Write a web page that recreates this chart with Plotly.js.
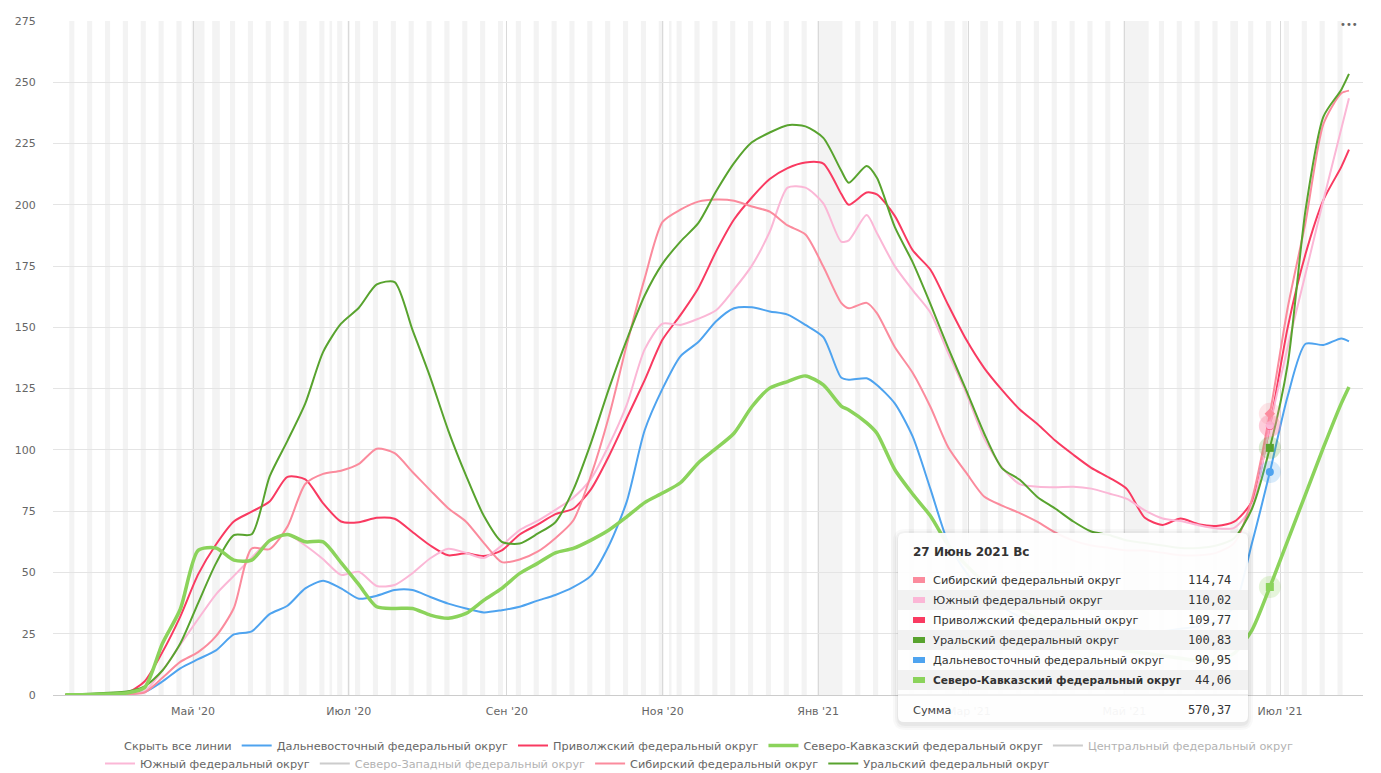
<!DOCTYPE html>
<html>
<head>
<meta charset="utf-8">
<script src="https://cdn.plot.ly/plotly-3.0.1.min.js"></script>
<style>
html,body{margin:0;padding:0;background:#fff;}
#chart{width:1381px;height:773px;}
</style>
</head>
<body>
<div id="chart"></div>
<script>
// ---------- DATA ----------
const dates = [
 '2020-03-12','2020-03-15','2020-03-22','2020-03-29','2020-04-05','2020-04-12','2020-04-19','2020-04-26',
 '2020-05-03','2020-05-10','2020-05-17','2020-05-24','2020-05-31','2020-06-07','2020-06-14','2020-06-21','2020-06-28',
 '2020-07-05','2020-07-12','2020-07-19','2020-07-26','2020-08-02','2020-08-09','2020-08-16','2020-08-23','2020-08-30',
 '2020-09-06','2020-09-13','2020-09-20','2020-09-27','2020-10-04','2020-10-11','2020-10-18','2020-10-25',
 '2020-11-01','2020-11-08','2020-11-15','2020-11-22','2020-11-29','2020-12-06','2020-12-13','2020-12-20','2020-12-27',
 '2021-01-03','2021-01-10','2021-01-13','2021-01-20','2021-01-24','2021-01-31','2021-02-07','2021-02-14','2021-02-21','2021-02-28',
 '2021-03-07','2021-03-14','2021-03-21','2021-03-28','2021-04-04','2021-04-11','2021-04-18','2021-04-25',
 '2021-05-02','2021-05-09','2021-05-16','2021-05-23','2021-05-30','2021-06-06','2021-06-13','2021-06-20','2021-06-27',
 '2021-07-04','2021-07-11','2021-07-18','2021-07-25','2021-07-28'
];

const dalnevostochny = [
 0, 0.1, 0.1, 0.2, 0.4, 1.2, 5.5, 10.9, 14.6, 18.2,
 24.7, 26, 33, 36.4, 43.5, 46.6, 43.5, 39.3, 40.5, 42.8,
 42.8, 40, 37.3, 35.3, 33.7, 34.6, 36, 38.5, 40.8, 44,
 48.7, 61, 79, 108, 125, 138.2, 144, 152.5, 157.8, 158.2,
 156.5, 155.2, 151, 146, 129.5, 128.6, 129.2, 126.5, 119, 105.5, 84,
 62, 50, 42, 36, 32, 30, 29, 28, 27, 27,
 27, 26, 26, 27, 28, 30, 36, 62, 90.95, 122,
 143.3, 142.8, 145.5, 144.3
];
const privolzhsky = [
 0.1, 0.1, 0.2, 0.4, 0.8, 5.5, 17.5, 32, 49.2, 61.4,
 70.8, 74.8, 78.9, 89, 88, 78.2, 70.8, 70.5, 72.3, 71.9,
 66.5, 61, 57, 57.8, 56.7, 59, 65.5, 69.5, 73.8, 76,
 84, 97.5, 113, 128.5, 145, 155, 166, 181, 194, 203,
 210.5, 215, 217.3, 216.8, 204.5, 200, 205, 204.3, 195.5, 181.5, 173.5,
 159, 145, 133.5, 124.5, 116.5, 110.5, 103.7, 98, 92.7, 88.7,
 84, 72.3, 69.4, 72, 69.7, 69, 70.7, 79, 109.77, 150,
 180, 202, 215.5, 222.5
];
const severoKavkazsky = [
 0.1, 0.1, 0.2, 0.4, 0.8, 3, 21, 35, 59, 60,
 55, 55, 63, 65.5, 62.5, 62.5, 54, 45, 36, 35.3,
 35.3, 32.6, 31.3, 33.3, 38.7, 43.5, 49.6, 53.7, 58, 59.8,
 63.2, 67.3, 72.7, 78.5, 82.4, 86.6, 94.7, 100.6, 106.8, 117.6,
 125.2, 127.9, 130.2, 126.5, 117.9, 116.3, 111, 106.8, 92, 82, 73,
 61, 53, 46, 40, 35, 31, 28, 25, 22, 20,
 18, 17, 16, 15, 14, 14, 17, 26.5, 44.06, 63,
 82, 101, 119, 125.7
];
const yuzhny = [
 0, 0.1, 0.1, 0.2, 0.5, 1.5, 10, 20.5, 31, 41.1,
 48.6, 56, 63.1, 65.6, 61, 55.4, 49, 50.3, 44.5, 44.9,
 49.7, 55.8, 59.7, 58, 55.9, 61, 67.3, 71, 75.5, 80.5,
 88.3, 102, 118.5, 141, 151.5, 151, 153.5, 157, 165.5, 175.2,
 189, 207, 207, 200.6, 185, 185.5, 195.8, 188.5, 175, 165.2, 156,
 139.4, 123.2, 104.8, 92.9, 86, 85, 84.8, 85, 84.2, 82.2,
 80, 75.3, 72, 71, 69.3, 68, 68.2, 77, 110.02, 142,
 172, 202, 231, 243.5
];
const sibirsky = [
 0, 0.1, 0.1, 0.2, 0.4, 1, 7, 13.5, 17.5, 24,
 35.5, 59.8, 59.5, 68.7, 86.1, 90.2, 91.5, 94.3, 100.5, 98.7,
 91, 83.5, 76.2, 70.7, 62, 54.2, 55.3, 58.5, 64, 71.2,
 89.7, 113.7, 143, 170, 193, 198, 201.3, 202.2, 201.7, 199.3,
 197.2, 191.6, 187.9, 174.8, 160, 157.8, 160, 155.8, 142, 131.5, 117.5,
 101, 90.7, 81, 77.3, 74.2, 70.6, 66.2, 63, 61, 60,
 59, 59, 58, 57, 57, 58, 62, 80, 114.74, 158,
 193, 233, 245.5, 246.6
];
const uralsky = [
 0.2, 0.3, 0.5, 0.9, 1.4, 3.5, 10, 21, 37.5, 53.7,
 65.2, 65.6, 89.1, 103.7, 119, 140, 151.5, 158, 167.5, 168.5,
 149, 129.5, 108, 89.5, 73, 62.5, 61.8, 65.8, 70.5, 83.7,
 103, 125, 145, 163, 176, 185, 192.5, 205.5, 217, 225.5,
 229.5, 232.5, 232, 227.3, 214, 209, 215.8, 211, 191, 176.6, 159.5,
 141.4, 124.4, 106.8, 92.6, 87.8, 80.7, 76, 70.8, 66.7, 65.3,
 63, 62, 61, 60, 60, 61, 64, 76, 100.83, 135,
 198, 236, 247, 253.4
];

const seriesNames = {
  dv: 'Дальневосточный федеральный округ',
  pv: 'Приволжский федеральный округ',
  sk: 'Северо-Кавказский федеральный округ',
  cf: 'Центральный федеральный округ',
  yu: 'Южный федеральный округ',
  sz: 'Северо-Западный федеральный округ',
  sb: 'Сибирский федеральный округ',
  ur: 'Уральский федеральный округ'
};
const hideAllLabel = 'Скрыть все линии';

const tickVals = ['2020-05-01','2020-07-01','2020-09-01','2020-11-01','2021-01-01','2021-03-01','2021-05-01','2021-07-01'];
const tickText = ["Май '20","Июл '20","Сен '20","Ноя '20","Янв '21","Мар '21","Май '21","Июл '21"];

const holidays = ['2020-05-01','2020-05-04','2020-05-05','2020-05-11','2020-06-12','2020-06-24','2020-07-01','2020-11-04',
 '2021-01-01','2021-01-04','2021-01-05','2021-01-06','2021-01-07','2021-01-08','2021-02-22','2021-02-23','2021-03-08',
 '2021-05-03','2021-05-04','2021-05-05','2021-05-06','2021-05-07','2021-05-10','2021-06-14'];

const tooltipDate = '2021-06-27';
const ruMonths = ['Январь','Февраль','Март','Апрель','Май','Июнь','Июль','Август','Сентябрь','Октябрь','Ноябрь','Декабрь'];
const ruDays = ['Вс','Пн','Вт','Ср','Чт','Пт','Сб'];
const sumLabel = 'Сумма';

// ---------- STYLE ----------
const FONT = 'DejaVu Sans, Verdana, sans-serif';
const MONO = 'DejaVu Sans Mono, monospace';
const TXT = 11.3;
const W = 1381, H = 773;
const M = {l:53, r:18, t:21, b:78};
const pw = W - M.l - M.r, ph = H - M.t - M.b;
const X = px => (px - M.l) / pw;
const Y = py => (H - M.b - py) / ph;

const visibleSeries = [
  {key:'dv', y: dalnevostochny, color:'#4ea3ef', legend:'legend', rank:2, symbol:'circle', width:2},
  {key:'pv', y: privolzhsky, color:'#f93a61', legend:'legend', rank:3, symbol:'circle', width:2},
  {key:'yu', y: yuzhny, color:'#fbb7d6', legend:'legend2', rank:6, symbol:'circle', width:2},
  {key:'sb', y: sibirsky, color:'#fb8b9d', legend:'legend2', rank:8, symbol:'diamond', width:2},
  {key:'ur', y: uralsky, color:'#58a32e', legend:'legend2', rank:9, symbol:'square', width:2},
  {key:'sk', y: severoKavkazsky, color:'#8bd35b', legend:'legend', rank:4, symbol:'square', width:3.5}
];

const traces = [];
traces.push({x:[null], y:[null], name: hideAllLabel, mode:'lines', line:{width:0, color:'rgba(0,0,0,0)'},
  legend:'legend', legendrank:1, hoverinfo:'skip'});
traces.push({x:[null], y:[null], name: seriesNames.cf, mode:'lines', line:{color:'#9a9a9a', width:2},
  legend:'legend', legendrank:5, visible:'legendonly'});
traces.push({x:[null], y:[null], name: seriesNames.sz, mode:'lines', line:{color:'#9a9a9a', width:2},
  legend:'legend2', legendrank:7, visible:'legendonly'});

visibleSeries.forEach(s => {
  traces.push({x: dates, y: s.y, name: seriesNames[s.key], mode:'lines',
    line:{color:s.color, width:s.width, shape:'spline', smoothing:0.7},
    legend:s.legend, legendrank:s.rank, hoverinfo:'skip'});
});

// hover markers at tooltip date
const ti = dates.indexOf(tooltipDate);
visibleSeries.forEach(s => {
  traces.push({x:[tooltipDate], y:[s.y[ti]], mode:'markers', showlegend:false, hoverinfo:'skip',
    marker:{size:22, color:s.color, opacity:0.22, symbol:'circle'}});
  traces.push({x:[tooltipDate], y:[s.y[ti]], mode:'markers', showlegend:false, hoverinfo:'skip',
    marker:{size:8, color:s.color, symbol:s.symbol, line:{width:0}}});
});

// ---------- weekend / holiday stripes ----------
const shapes = [];
function d2s(t){ const d = new Date(t); return d.toISOString().slice(0,16).replace('T',' '); }
const DAY = 86400000;
const t0 = Date.parse(dates[0] + 'T00:00:00Z'), t1 = Date.parse(dates[dates.length-1] + 'T00:00:00Z');
const hol = new Set(holidays);
let runStart = null;
for (let t = t0; t <= t1 + DAY; t += DAY) {
  const d = new Date(t);
  const iso = d.toISOString().slice(0,10);
  const off = t <= t1 && (d.getUTCDay() === 0 || d.getUTCDay() === 6 || hol.has(iso));
  if (off && runStart === null) runStart = t;
  if (!off && runStart !== null) {
    shapes.push({type:'rect', xref:'x', yref:'paper', x0:d2s(runStart - DAY/2), x1:d2s(t - DAY/2), y0:0, y1:1,
      fillcolor:'#f3f3f3', line:{width:0}, layer:'below'});
    runStart = null;
  }
}

// ---------- tooltip ----------
function roundRect(x0,y0,x1,y1,r){
  return `M${X(x0+r)},${Y(y0)} L${X(x1-r)},${Y(y0)} Q${X(x1)},${Y(y0)} ${X(x1)},${Y(y0+r)} ` +
         `L${X(x1)},${Y(y1-r)} Q${X(x1)},${Y(y1)} ${X(x1-r)},${Y(y1)} L${X(x0+r)},${Y(y1)} ` +
         `Q${X(x0)},${Y(y1)} ${X(x0)},${Y(y1-r)} L${X(x0)},${Y(y0+r)} Q${X(x0)},${Y(y0)} ${X(x0+r)},${Y(y0)} Z`;
}
const TB = {x0:898, y0:533, x1:1248, y1:722};
[[6,0.025],[4,0.03],[2,0.04]].forEach(([e,a]) => {
  shapes.push({type:'path', xref:'paper', yref:'paper', path: roundRect(TB.x0-e+1, TB.y0-e+2, TB.x1+e-1, TB.y1+e+2, 6+e),
    fillcolor:`rgba(0,0,0,${a})`, line:{width:0}, layer:'above'});
});
shapes.push({type:'path', xref:'paper', yref:'paper', path: roundRect(TB.x0, TB.y0, TB.x1, TB.y1, 6),
  fillcolor:'rgba(255,255,255,0.94)', line:{width:0}, layer:'above'});

const rows = visibleSeries.map(s => ({name: seriesNames[s.key], v: s.y[ti], color: s.color, bold: s.key === 'sk'}))
  .sort((a,b) => b.v - a.v);
const fmt = v => v.toFixed(2).replace('.', ',');
const annotations = [];
const td = new Date(tooltipDate + 'T00:00:00Z');
annotations.push({xref:'paper', yref:'paper', x:X(911), y:Y(552), xanchor:'left', yanchor:'middle', showarrow:false,
  text:`<b>${td.getUTCDate()} ${ruMonths[td.getUTCMonth()]} ${td.getUTCFullYear()} ${ruDays[td.getUTCDay()]}</b>`,
  font:{family:FONT, size:12, color:'#333'}});
rows.forEach((r, i) => {
  const cy = 580 + i*20;
  if (i % 2 === 1) {
    shapes.push({type:'rect', xref:'paper', yref:'paper', x0:X(TB.x0), x1:X(TB.x1), y0:Y(cy-10), y1:Y(cy+10),
      fillcolor:'#f2f2f2', line:{width:0}, layer:'above'});
  }
  shapes.push({type:'rect', xref:'paper', yref:'paper', x0:X(913), x1:X(925), y0:Y(cy-3), y1:Y(cy+3),
    fillcolor:r.color, line:{width:0}, layer:'above'});
  annotations.push({xref:'paper', yref:'paper', x:X(931), y:Y(cy), xanchor:'left', yanchor:'middle', showarrow:false,
    text: r.bold ? `<b>${r.name}</b>` : r.name, font:{family:FONT, size: r.bold ? 10.6 : TXT, color:'#333'}});
  annotations.push({xref:'paper', yref:'paper', x:X(1233), y:Y(cy), xanchor:'right', yanchor:'middle', showarrow:false,
    text: fmt(r.v), font:{family:MONO, size:12, color:'#333'}});
});
shapes.push({type:'line', xref:'paper', yref:'paper', x0:X(TB.x0), x1:X(TB.x1), y0:Y(695), y1:Y(695),
  line:{color:'#e2e2e2', width:1}, layer:'above'});
const total = rows.reduce((a,r) => a + r.v, 0);
annotations.push({xref:'paper', yref:'paper', x:X(911), y:Y(710), xanchor:'left', yanchor:'middle', showarrow:false,
  text: sumLabel, font:{family:FONT, size:TXT, color:'#444'}});
annotations.push({xref:'paper', yref:'paper', x:X(1233), y:Y(710), xanchor:'right', yanchor:'middle', showarrow:false,
  text: fmt(total), font:{family:MONO, size:12, color:'#333'}});
// menu dots
annotations.push({xref:'paper', yref:'paper', x:X(1360), y:Y(25), xanchor:'right', yanchor:'middle', showarrow:false,
  text:'•••', font:{family:FONT, size:10, color:'#666'}});

const legendBase = {orientation:'h', yanchor:'top', xanchor:'left', bgcolor:'rgba(0,0,0,0)',
  font:{family:FONT, size:TXT, color:'#666'}, itemclick:false, itemdoubleclick:false, traceorder:'normal'};

const layout = {
  width:W, height:H,
  margin:{l:M.l, r:M.r, t:M.t, b:M.b, autoexpand:false},
  paper_bgcolor:'#fff', plot_bgcolor:'#fff',
  font:{family:FONT, size:11, color:'#666'},
  showlegend:true,
  legend: Object.assign({}, legendBase, {x:X(84), y:Y(731)}),
  legend2: Object.assign({}, legendBase, {x:X(100), y:Y(749)}),
  xaxis:{type:'date', range:['2020-03-07 03:00','2021-08-02 12:00'], tickvals:tickVals, ticktext:tickText,
    showgrid:true, gridcolor:'#d9d9d9', gridwidth:1, showline:true, linecolor:'#cccccc', linewidth:1,
    ticks:'outside', ticklen:6, tickcolor:'rgba(0,0,0,0)', tickfont:{family:FONT, size:11, color:'#666'},
    zeroline:false, fixedrange:true},
  yaxis:{range:[0,275], tick0:0, dtick:25, showgrid:true, gridcolor:'#e4e4e4', gridwidth:1,
    zeroline:false, showline:false, ticks:'outside', ticklen:14, tickcolor:'rgba(0,0,0,0)',
    tickfont:{family:FONT, size:11, color:'#666'}, fixedrange:true},
  shapes: shapes,
  annotations: annotations,
  hovermode:false
};

Plotly.newPlot('chart', traces, layout, {displayModeBar:false, staticPlot:true});
</script>
</body>
</html>
